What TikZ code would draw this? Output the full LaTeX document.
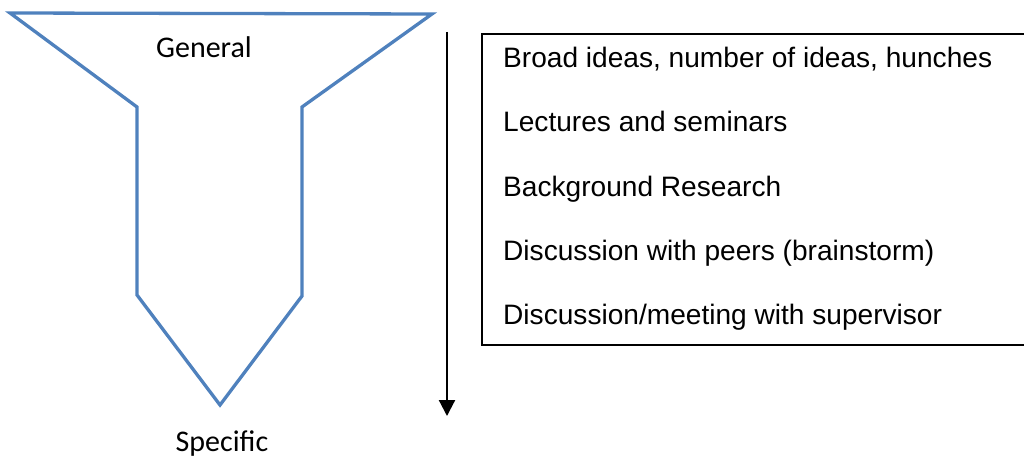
\documentclass[tikz,border=0pt]{standalone}
\usepackage{fontspec}
\setmainfont{Liberation Sans}
\newfontfamily\calibri{Carlito}
\usetikzlibrary{positioning,arrows.meta}
\definecolor{funnelblue}{RGB}{79,129,189}

\begin{document}
\begin{tikzpicture}[x=1pt, y=-1pt,
    funnel/.style={draw=funnelblue, line width=3.3pt, line join=miter},
    item/.style={anchor=base west, inner sep=0pt, font=\fontsize{28.1}{33}\selectfont},
    tag/.style={anchor=base, inner sep=0pt, font=\calibri\fontsize{30}{36}\selectfont}
]
\useasboundingbox (0,0) rectangle (1024,457);
\clip (0,0) rectangle (1024,457);
% Funnel
\draw[funnel] (10,13) -- (432,14) -- (302,107) -- (302,296) -- (220,405) -- (137,295) -- (137,107) -- cycle;
\node[tag] (general) at (204,58) {General};
\node[tag] (specific) at (222,451) {Specific};

% Arrow
\coordinate (start) at (447,32);
\coordinate (end) at (447,416);
\draw[-{Triangle[length=16pt, width=16pt]}, line width=2.2pt] (start) -- (end);

% Box
\node[draw, line width=1.6pt, anchor=north west, minimum width=620pt, minimum height=311pt] (list) at (481,33) {};
\node[item] (broad) at (503,68) {Broad ideas, number of ideas, hunches};
\node[item] (lectures) at (503,132) {Lectures and seminars};
\node[item] (background) at (503,196) {Background Research};
\node[item] (peers) at (503,260) {Discussion with peers (brainstorm)};
\node[item] (supervisor) at (503,324) {Discussion/meeting with supervisor};
\end{tikzpicture}
\end{document}
